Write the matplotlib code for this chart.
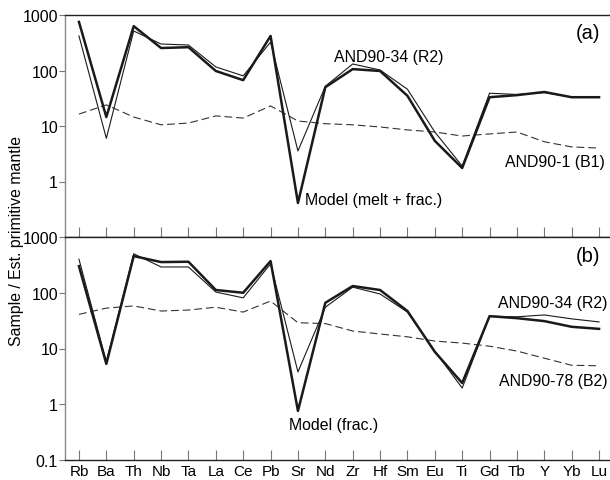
import matplotlib
matplotlib.use("Agg")
import matplotlib.pyplot as plt
from matplotlib.ticker import FixedLocator, NullLocator

plt.rcParams['font.family'] = ['Liberation Sans', 'DejaVu Sans']

# elements along the x axis
elements = ["Rb", "Ba", "Th", "Nb", "Ta", "La", "Ce", "Pb", "Sr", "Nd",
            "Zr", "Hf", "Sm", "Eu", "Ti", "Gd", "Tb", "Y", "Yb", "Lu"]

# panel (a)
model_a = [750, 14.5, 630, 254, 263, 98, 67, 420, 0.41, 50,
           106, 98, 35, 5.4, 1.75, 33, 36, 41, 33, 33]
r2_a = [420, 6.0, 515, 300, 288, 116, 80, 325, 3.55, 52,
        131, 102, 46, 7.8, 1.9, 39, 37, 40, 33, 33]
b1_a = [16.4, 24, 14.5, 10.5, 11.3, 15.2, 13.9, 23, 12.3, 11,
        10.5, 9.6, 8.5, 7.8, 6.6, 7.2, 7.8, 5.2, 4.2, 4.0]

# panel (b)
model_b = [300, 5.3, 455, 355, 360, 112, 100, 370, 0.76, 66,
           132, 112, 47, 8.7, 2.4, 38, 35, 31, 24.5, 22.5]
r2_b = [400, 5.8, 500, 290, 290, 103, 81, 330, 3.8, 55,
        126, 95, 45, 9, 1.95, 38, 37, 40, 34, 30]
b2_b = [41, 53, 58, 47, 49, 55, 45, 71, 29, 28,
        20.6, 18.2, 16.2, 13.6, 12.5, 11, 9, 6.7, 5.0, 4.9]

x = list(range(len(elements)))

fig = plt.figure(figsize=(6.1, 4.81), dpi=100)
ax1 = fig.add_axes([65/610, 1-238/481, 1-65/610, 222/481])
ax2 = fig.add_axes([65/610, 1-461/481, 1-65/610, 223/481])

line_col = "#1a1a1a"
for ax, model, r2, dash in [(ax1, model_a, r2_a, b1_a), (ax2, model_b, r2_b, b2_b)]:
    ax.plot(x, dash, color="#333333", lw=0.8, ls=(0, (7, 3.5)))
    ax.plot(x, r2, color=line_col, lw=0.8)
    ax.plot(x, model, color=line_col, lw=1.8)
    ax.set_yscale("log")
    ax.set_ylim(0.1, 1000)
    ax.set_xlim(-0.51, 19.4)
    ax.spines["right"].set_visible(False)
    ax.spines["left"].set_color("#888888")
    ax.spines["left"].set_linewidth(1.0)
    for s in ("top", "bottom"):
        ax.spines[s].set_color("#222222")
        ax.spines[s].set_linewidth(1.0)
    ax.yaxis.set_minor_locator(NullLocator())
    ax.set_xticks(x)
    ax.tick_params(axis="x", direction="in", length=7, width=0.8, color="#777777",
                   labelsize=11, pad=3)
    ax.tick_params(axis="y", direction="out", length=4, width=0.8, color="#777777",
                   labelsize=11.5, pad=1)

ax1.yaxis.set_major_locator(FixedLocator([1, 10, 100, 1000]))
ax1.set_yticklabels(["1", "10", "100", "1000"])
ax1.set_xticklabels([])
ax2.yaxis.set_major_locator(FixedLocator([0.1, 1, 10, 100, 1000]))
ax2.set_yticklabels(["0.1", "1", "10", "100", "1000"])
ax2.set_xticklabels(elements)

fs = 11.4
ax1.text(0.982, 0.923, "(a)", transform=ax1.transAxes, ha="right", va="center", fontsize=14.5)
ax2.text(0.982, 0.915, "(b)", transform=ax2.transAxes, ha="right", va="center", fontsize=14.5)

# annotations placed in data coordinates
ax1.text(11.33, 182, "AND90-34 (R2)", ha="center", va="center", fontsize=fs)
ax1.text(8.26, 0.48, "Model (melt + frac.)", ha="left", va="center", fontsize=fs)
ax1.text(19.2, 2.34, "AND90-1 (B1)", ha="right", va="center", fontsize=fs)
ax2.text(19.3, 68, "AND90-34 (R2)", ha="right", va="center", fontsize=fs)
ax2.text(19.3, 2.72, "AND90-78 (B2)", ha="right", va="center", fontsize=fs)
ax2.text(9.32, 0.44, "Model (frac.)", ha="center", va="center", fontsize=fs)

fig.text(17/610, 1-241/481, "Sample / Est. primitive mantle", rotation=90,
         ha="center", va="center", fontsize=11.4)

fig.savefig("out.png", dpi=100)
